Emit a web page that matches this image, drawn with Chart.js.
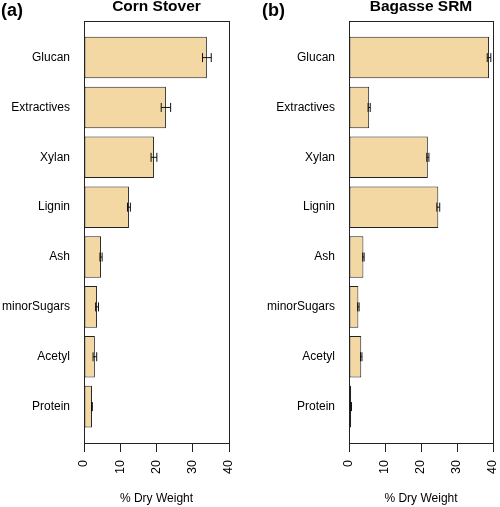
<!DOCTYPE html>
<html>
<head>
<meta charset="utf-8">
<script src="https://cdn.jsdelivr.net/npm/chart.js@4.4.0/dist/chart.umd.min.js"></script>
<style>
    body { margin: 0; background: #fff; }
    #wrap { position: relative; width: 500px; height: 507px; }
    canvas { position: absolute; top: 0; }
    .tag { position: absolute; top: 1px; font: bold 18px 'Liberation Sans', Arial, sans-serif; line-height: 1; color: #000; }
</style>
</head>
<body>
<div id="wrap">
    <canvas id="cornStover" width="250" height="507" style="left:0"></canvas>
    <canvas id="bagasse" width="250" height="507" style="left:250px"></canvas>
    <div class="tag" style="left:1px">(a)</div>
    <div class="tag" style="left:262px">(b)</div>
</div>
<script>
const components = ["Glucan", "Extractives", "Xylan", "Lignin", "Ash", "minorSugars", "Acetyl", "Protein"];
const cornStover = [33.9, 22.6, 19.3, 12.4, 4.7, 3.6, 3.0, 2.2];
const cornStoverErr = [1.2, 1.3, 0.8, 0.4, 0.3, 0.4, 0.5, 0.1];
const bagasse = [38.9, 5.6, 21.9, 24.8, 4.0, 2.6, 3.4, 0.6];
const bagasseErr = [0.5, 0.3, 0.3, 0.4, 0.2, 0.2, 0.2, 0.1];
const xTicks = [0, 10, 20, 30, 40];

// barplot style slots: width 1, gap 0.2
const barPos = components.map((c, i) => 0.7 + 1.2 * i);
const family = "'Liberation Sans', Arial, sans-serif";
const barFill = '#F4D8A4';

const errorBars = {
    id: 'errorBars',
    afterDatasetsDraw(chart, args, opts) {
        const ctx = chart.ctx;
        const x = chart.scales.x;
        const ds = chart.data.datasets[0];
        ctx.save();
        ctx.strokeStyle = '#111';
        ctx.lineWidth = 1;
        chart.getDatasetMeta(0).data.forEach((bar, i) => {
            const v = ds.data[i].x, e = opts.errors[i];
            const x0 = x.getPixelForValue(v - e), x1 = x.getPixelForValue(v + e);
            const yc = bar.y, h = 4.5;
            ctx.beginPath();
            ctx.moveTo(x0, yc); ctx.lineTo(x1, yc);
            ctx.moveTo(x0, yc - h); ctx.lineTo(x0, yc + h);
            ctx.moveTo(x1, yc - h); ctx.lineTo(x1, yc + h);
            ctx.stroke();
        });
        ctx.restore();
    }
};

const frame = {
    id: 'frame',
    afterDraw(chart) {
        const a = chart.chartArea, ctx = chart.ctx;
        ctx.save();
        ctx.strokeStyle = '#222';
        ctx.lineWidth = 1;
        ctx.strokeRect(Math.round(a.left) + 0.5, Math.round(a.top) + 0.5,
            Math.round(a.right - a.left), Math.round(a.bottom - a.top));
        ctx.restore();
    }
};

function makeChart(id, title, values, errors, yWidth, padRight) {
    return new Chart(document.getElementById(id), {
        type: 'bar',
        data: {
            datasets: [{
                data: values.map((v, i) => ({ x: v, y: barPos[i] })),
                backgroundColor: barFill,
                borderColor: '#222',
                borderWidth: 1,
                borderSkipped: false,
                categoryPercentage: 1,
                barPercentage: 1 / 1.2
            }]
        },
        options: {
            indexAxis: 'y',
            responsive: false,
            animation: false,
            layout: { padding: { left: 0, right: padRight, top: 0, bottom: 0 } },
            plugins: {
                legend: { display: false },
                tooltip: { enabled: false },
                title: {
                    display: true,
                    text: title,
                    fullSize: false,
                    color: '#000',
                    font: { family: family, size: 15.5, weight: 'bold' },
                    padding: { top: -4.5, bottom: 4.9 }
                },
                errorBars: { errors: errors }
            },
            scales: {
                x: {
                    type: 'linear',
                    min: 0,
                    max: 40,
                    afterBuildTicks: s => { s.ticks = xTicks.map(v => ({ value: v })); },
                    afterFit: s => { s.height = 64; s.paddingLeft = 0; s.paddingRight = 0; },
                    ticks: { minRotation: 90, maxRotation: 90, padding: 8, color: '#000', font: { family: family, size: 12.5 } },
                    grid: { drawOnChartArea: false, drawTicks: true, tickLength: 9, color: '#222' },
                    border: { display: true, color: '#222' },
                    title: { display: true, text: '% Dry Weight', color: '#000', font: { family: family, size: 12 }, padding: { top: 0, bottom: 1 } }
                },
                y: {
                    type: 'linear',
                    reverse: true,
                    offset: false,
                    min: -0.176,
                    max: 9.976,
                    afterBuildTicks: s => { s.ticks = barPos.map(v => ({ value: v })); },
                    afterFit: s => { s.width = yWidth; },
                    ticks: { autoSkip: false, padding: 14, color: '#000', font: { family: family, size: 12 },
                        callback: (v, i) => components[i] },
                    grid: { display: false, drawTicks: false },
                    border: { display: false }
                }
            }
        },
        plugins: [errorBars, frame]
    });
}

makeChart('cornStover', 'Corn Stover', cornStover, cornStoverErr, 84, 21);
makeChart('bagasse', 'Bagasse SRM', bagasse, bagasseErr, 99, 7);
</script>
</body>
</html>
